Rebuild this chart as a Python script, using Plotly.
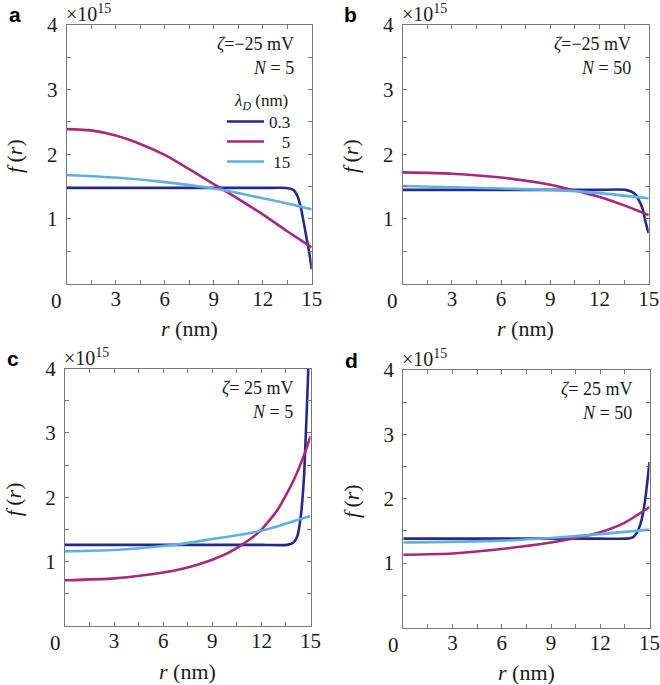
import plotly.graph_objects as go

SERIF = "Liberation Serif, Times New Roman, serif"
NAVY = "#27298a"
MAGENTA = "#a8287e"
SKY = "#5fb0e2"
FRAME = "#777777"
TXT = "#1a1a1a"

lambda_labels = ["0.3", "5", "15"]

# ---- panel a : zeta = -25 mV, N = 5
r_a_03 = [0, 3, 6, 9, 12, 13.47, 13.88, 14.12, 14.33, 14.53, 14.73, 14.9, 15]
f_a_03 = [1.48, 1.48, 1.48, 1.48, 1.48, 1.48, 1.45, 1.36, 1.18, 0.92, 0.64, 0.40, 0.22]
r_a_5 = [0, 1.5, 3, 4.5, 6, 7.5, 9, 10.5, 12, 13.5, 15]
f_a_5 = [2.39, 2.37, 2.29, 2.16, 1.99, 1.77, 1.54, 1.31, 1.07, 0.81, 0.56]
r_a_15 = [0, 3, 6, 9, 10.5, 12, 13.5, 15]
f_a_15 = [1.68, 1.64, 1.57, 1.47, 1.40, 1.32, 1.24, 1.15]

# ---- panel b : zeta = -25 mV, N = 50
r_b_03 = [0, 3, 6, 9, 12, 13.6, 14.1, 14.4, 14.65, 14.8, 15]
f_b_03 = [1.45, 1.45, 1.45, 1.45, 1.45, 1.45, 1.40, 1.29, 1.14, 0.96, 0.78]
r_b_5 = [0, 3, 6, 9, 10.5, 12, 13.5, 15]
f_b_5 = [1.72, 1.70, 1.64, 1.53, 1.44, 1.34, 1.21, 1.06]
r_b_15 = [0, 6, 9, 12, 15]
f_b_15 = [1.51, 1.47, 1.45, 1.40, 1.32]

# ---- panel c : zeta = 25 mV, N = 5
r_c_03 = [0, 3, 6, 9, 12, 13.57, 13.98, 14.2, 14.4, 14.6, 14.73, 14.84, 14.9, 15]
f_c_03 = [1.26, 1.26, 1.26, 1.26, 1.26, 1.26, 1.30, 1.40, 1.69, 2.30, 3.08, 3.80, 4.3, 5.5]
r_c_5 = [0, 3, 6, 7.5, 9, 10, 10.8, 11.9, 13, 14, 14.7, 15]
f_c_5 = [0.71, 0.74, 0.83, 0.91, 1.03, 1.14, 1.26, 1.47, 1.81, 2.28, 2.72, 2.95]
r_c_15 = [0, 3, 5, 7, 9, 11, 12, 13, 14, 15]
f_c_15 = [1.16, 1.18, 1.22, 1.27, 1.35, 1.43, 1.48, 1.55, 1.63, 1.71]

# ---- panel d : zeta = 25 mV, N = 50
r_d_03 = [0, 3, 6, 9, 12, 13.58, 13.98, 14.2, 14.43, 14.6, 14.76, 14.9, 15]
f_d_03 = [1.38, 1.38, 1.38, 1.38, 1.38, 1.38, 1.40, 1.46, 1.59, 1.77, 2.03, 2.34, 2.57]
r_d_5 = [0, 3, 6, 9, 10.5, 12, 13.5, 15]
f_d_5 = [1.13, 1.15, 1.22, 1.32, 1.39, 1.48, 1.63, 1.87]
r_d_15 = [0, 6, 9, 12, 15]
f_d_15 = [1.32, 1.35, 1.39, 1.45, 1.52]

x_tick_vals = [0, 1.5, 3, 4.5, 6, 7.5, 9, 10.5, 12, 13.5, 15]
x_tick_text = ["", "", "3", "", "6", "", "9", "", "12", "", "15"]
y_tick_vals = [0.5, 1, 1.5, 2, 2.5, 3, 3.5, 4]
y_tick_text = ["", "1", "", "2", "", "3", "", "4"]

zeta_text = ["<i>ζ</i>=−25 mV", "<i>ζ</i>=−25 mV", "<i>ζ</i>= 25 mV", "<i>ζ</i>= 25 mV"]
n_text = ["<i>N</i> = 5", "<i>N</i> = 50", "<i>N</i> = 5", "<i>N</i> = 50"]
panel_letters = ["a", "b", "c", "d"]

W, H = 660, 685
# pixel boxes: left, right, top, bottom
boxes = [
    (66.7, 311.7, 25.0, 283.6),
    (402.7, 648.7, 25.0, 283.6),
    (65.0, 310.5, 368.5, 626.0),
    (403.3, 649.5, 370.0, 627.5),
]

panels = [
    [(r_a_03, f_a_03), (r_a_5, f_a_5), (r_a_15, f_a_15)],
    [(r_b_03, f_b_03), (r_b_5, f_b_5), (r_b_15, f_b_15)],
    [(r_c_03, f_c_03), (r_c_5, f_c_5), (r_c_15, f_c_15)],
    [(r_d_03, f_d_03), (r_d_5, f_d_5), (r_d_15, f_d_15)],
]
colors = [NAVY, MAGENTA, SKY]
legend_names = ["0.3", "\u2007\u20085", "\u200815"]
legend_ids = ["legend", "legend2", "legend3"]
legend_centers = [122, 142, 162]

fig = go.Figure()
layout = dict(
    width=W, height=H,
    margin=dict(l=0, r=0, t=0, b=0, autoexpand=False),
    paper_bgcolor="white", plot_bgcolor="white",
    showlegend=True,
    font=dict(family=SERIF, color=TXT),
)
annotations = []


def px_x(x):
    return x / W


def px_y(y):
    return 1 - y / H


for i, (box, curves) in enumerate(zip(boxes, panels)):
    l, r, t, b = box
    sfx = "" if i == 0 else str(i + 1)
    xa = "x" + sfx
    ya = "y" + sfx
    for j, (rr, ff) in enumerate(curves):
        fig.add_trace(go.Scatter(
            x=rr, y=ff, mode="lines",
            line=dict(color=colors[j], width=2.6, shape="spline", smoothing=0.6),
            xaxis=xa, yaxis=ya, hoverinfo="skip",
            name=legend_names[j], showlegend=(i == 0), legend=legend_ids[j],
        ))
    layout["xaxis" + sfx] = dict(
        domain=[px_x(l), px_x(r)], anchor=ya, range=[0, 15],
        tickmode="array", tickvals=x_tick_vals, ticktext=x_tick_text,
        ticks="inside", ticklen=4, tickcolor=FRAME, tickwidth=1,
        showline=True, linecolor=FRAME, linewidth=1, mirror="ticks",
        showgrid=False, zeroline=False,
        tickfont=dict(family=SERIF, size=21, color=TXT),
        ticklabelstandoff=-4,
    )
    layout["yaxis" + sfx] = dict(
        domain=[px_y(b), px_y(t)], anchor=xa, range=[0, 4],
        tickmode="array", tickvals=y_tick_vals, ticktext=y_tick_text,
        ticks="inside", ticklen=4, tickcolor=FRAME, tickwidth=1,
        showline=True, linecolor=FRAME, linewidth=1, mirror="ticks",
        showgrid=False, zeroline=False,
        tickfont=dict(family=SERIF, size=21, color=TXT),
        ticklabelstandoff=4,
    )
    annotations.append(dict(
        text="0", x=px_x(l - 10), y=px_y(b + 17), xref="paper", yref="paper",
        xanchor="center", yanchor="middle", showarrow=False,
        font=dict(family=SERIF, size=21, color=TXT),
    ))
    annotations.append(dict(
        text="×10<sup>15</sup>", x=px_x(l - 3), y=px_y(t - 12), xref="paper", yref="paper",
        xanchor="left", yanchor="middle", showarrow=False,
        font=dict(family=SERIF, size=20, color=TXT),
    ))
    annotations.append(dict(
        text="<i>r</i> (nm)", x=px_x((l + r) / 2), y=px_y(b + 45), xref="paper", yref="paper",
        xanchor="center", yanchor="middle", showarrow=False,
        font=dict(family=SERIF, size=22, color=TXT),
    ))
    annotations.append(dict(
        text="<i>f</i>\u2009(<i>r</i>)", x=px_x(l - 52), y=px_y((t + b) / 2 + 2), xref="paper", yref="paper",
        xanchor="center", yanchor="middle", showarrow=False, textangle=-90,
        font=dict(family=SERIF, size=22, color=TXT),
    ))
    annotations.append(dict(
        text=zeta_text[i], x=px_x(r - 16), y=px_y(t + 19), xref="paper", yref="paper",
        xanchor="right", yanchor="middle", showarrow=False,
        font=dict(family=SERIF, size=18, color=TXT),
    ))
    annotations.append(dict(
        text=n_text[i], x=px_x(r - 16), y=px_y(t + 43), xref="paper", yref="paper",
        xanchor="right", yanchor="middle", showarrow=False,
        font=dict(family=SERIF, size=18, color=TXT),
    ))
    annotations.append(dict(
        text="<b>" + panel_letters[i] + "</b>", x=px_x(l - 52), y=px_y(t - 10), xref="paper", yref="paper",
        xanchor="center", yanchor="middle", showarrow=False,
        font=dict(family="Liberation Sans, Arial, sans-serif", size=21, color="black"),
    ))

# legend title
annotations.append(dict(
    text="<i>λ</i><sub><i>D</i></sub> (nm)", x=px_x(261), y=px_y(102), xref="paper", yref="paper",
    xanchor="center", yanchor="middle", showarrow=False,
    font=dict(family=SERIF, size=17, color=TXT),
))
layout["annotations"] = annotations
for lid, yc in zip(legend_ids, legend_centers):
    layout[lid] = dict(
        x=px_x(222), y=px_y(yc), xanchor="left", yanchor="middle",
        bgcolor="rgba(0,0,0,0)", borderwidth=0,
        font=dict(family=SERIF, size=17, color=TXT),
        itemwidth=37,
    )
fig.update_layout(**layout)
fig.write_html(
    "out.html",
    config={"displayModeBar": False},
    post_script="document.body.style.margin='0';document.body.style.overflow='hidden';",
)
